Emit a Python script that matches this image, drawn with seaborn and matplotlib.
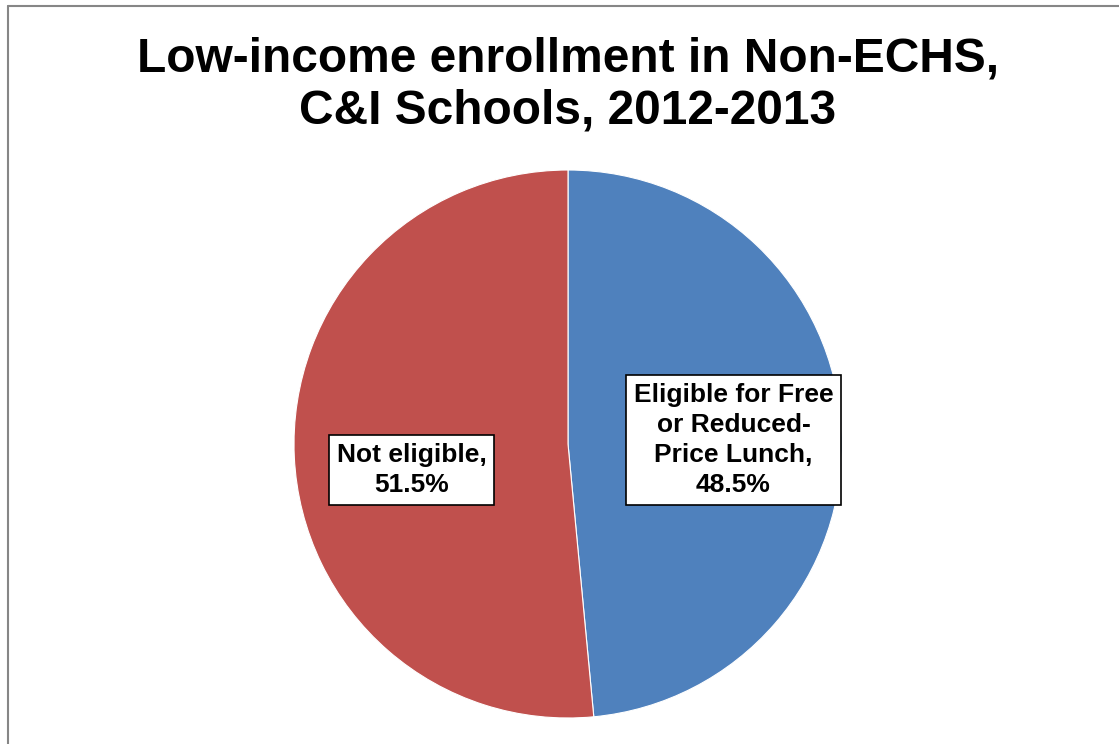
import matplotlib
matplotlib.use("Agg")
import matplotlib.pyplot as plt
from matplotlib.lines import Line2D
import seaborn as sns

# Enrollment shares (percent)
categories = ["Eligible for Free\nor Reduced-\nPrice Lunch", "Not eligible"]
shares = [48.5, 51.5]
colors = ["#4F81BD", "#C0504D"]

sns.set_theme(style="white")
plt.rcParams["font.family"] = ["Liberation Sans", "DejaVu Sans"]

W, H = 1119, 744
fig = plt.figure(figsize=(W / 100, H / 100), dpi=100)
fig.patch.set_facecolor("white")

# Pie axes: centre (568, 444) px, radius 274 px
cx, cy, r = 568, 444, 274
ax = fig.add_axes([(cx - r) / W, (H - cy - r) / H, 2 * r / W, 2 * r / H])
ax.pie(shares, colors=colors, startangle=90, counterclock=False, radius=1,
       wedgeprops=dict(edgecolor="white", linewidth=0.8))
ax.set_xlim(-1, 1)
ax.set_ylim(-1, 1)
ax.set_axis_off()

# Data labels in boxed callouts
label_pos = [(0.604, 0.015), (-0.571, -0.095)]
for name, val, (lx, ly) in zip(categories, shares, label_pos):
    ax.text(lx, ly, f"{name},\n{val:.1f}%", ha="center", va="center",
            fontsize=19, fontweight="bold", color="black", linespacing=1.32,
            bbox=dict(boxstyle="square,pad=0.3", facecolor="white",
                      edgecolor="black", linewidth=1.2))

# Title
fig.text(cx / W, 1 - 85 / H,
         "Low-income enrollment in Non-ECHS,\nC&I Schools, 2012-2013",
         ha="center", va="center", fontsize=34.5, fontweight="bold",
         color="black", linespacing=1.2)

# Chart-area border (top and left edges)
border = "#868686"
fig.add_artist(Line2D([8 / W, 1.0], [1 - 6 / H, 1 - 6 / H], color=border,
                      linewidth=1.5, transform=fig.transFigure))
fig.add_artist(Line2D([8 / W, 8 / W], [0.0, 1 - 6 / H], color=border,
                      linewidth=1.5, transform=fig.transFigure))

fig.savefig("out.png", dpi=100, facecolor="white")
